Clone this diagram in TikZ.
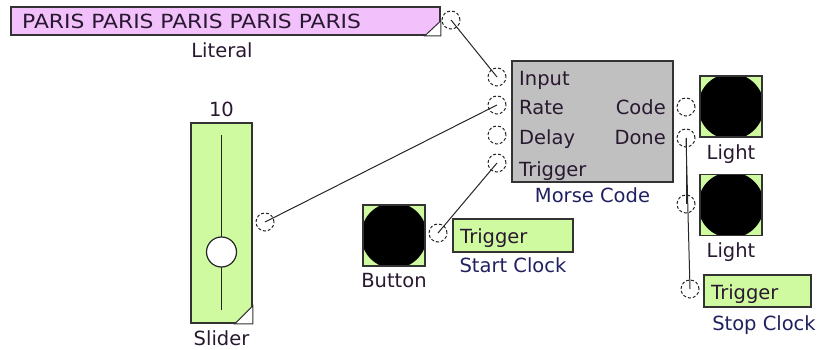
\documentclass[tikz,border=0pt]{standalone}
\usepackage{fontspec}
\setmainfont{DejaVu Sans}
\usetikzlibrary{positioning}
\definecolor{modgreen}{RGB}{208,250,160}
\definecolor{litpink}{RGB}{242,192,250}
\definecolor{modgray}{RGB}{192,192,192}
\definecolor{lblblue}{RGB}{32,32,96}
\definecolor{lbldark}{RGB}{40,24,48}
\tikzset{
  modbox/.style={rectangle, draw=black!80, line width=1.6pt, fill=#1, inner sep=0pt},
  lampbox/.style={modbox=modgreen, minimum width=62pt, minimum height=61pt,
                  path picture={\fill[black] (path picture bounding box.center) circle (33pt);}},
  port/.style={circle, draw=black!85, densely dashed, line width=1pt,
               minimum size=18pt, inner sep=0pt},
  wire/.style={line width=1pt, black!85},
  lbl/.style={font=\fontsize{19.5}{24}\selectfont, inner sep=0pt, anchor=base, text=lbldark},
  modlbl/.style={lbl, text=lblblue},
  corner/.style={fill=white, draw=black!80, line width=1pt},
}
\begin{document}
\begin{tikzpicture}[x=1pt, y=-1pt]
  \useasboundingbox (0,0) rectangle (824,350);
  % Literal
  \node[modbox=litpink, minimum width=429pt, minimum height=28pt] (literal) at (225.5,21) {};
  \node[lbl, anchor=base west, xscale=1.12] (littext) at (22,29) {PARIS PARIS PARIS PARIS PARIS};
  \draw[corner] (literal.south east) -- ++(0,-15) -- ++(-16,15) -- cycle;
  \node[lbl] (litname) at (222,58) {Literal};
  \node[port] (litout) at (451,20) {};
  % Morse Code
  \node[modbox=modgray, minimum width=161pt, minimum height=121pt] (morse) at (592.5,121.5) {};
  \node[lbl, anchor=base west] (inlbl) at (519,86) {Input};
  \node[lbl, anchor=base west] (ratelbl) at (519,115) {Rate};
  \node[lbl, anchor=base west] (delaylbl) at (519,145) {Delay};
  \node[lbl, anchor=base west] (triglbl) at (519,176) {Trigger};
  \node[lbl, anchor=base east] (codelbl) at (666,115) {Code};
  \node[lbl, anchor=base east] (donelbl) at (666,145) {Done};
  \node[modlbl] (morsename) at (592.5,202) {Morse Code};
  \node[port] (inport) at (497,77) {};
  \node[port] (rateport) at (497,105) {};
  \node[port] (delayport) at (497,135) {};
  \node[port] (trigport) at (497,163) {};
  \node[port] (codeport) at (686,107) {};
  \node[port] (doneport) at (686,138) {};
  % Lights
  \node[lampbox] (light1) at (731,106.5) {};
  \node[lbl] (light1name) at (731,159) {Light};
  \node[lampbox] (light2) at (731,205) {};
  \node[lbl] (light2name) at (731,257) {Light};
  \node[port] (light2in) at (686,204) {};
  % Stop Clock
  \node[modbox=modgreen, minimum width=107pt, minimum height=32pt] (stop) at (757.5,291) {};
  \node[lbl, anchor=base west] (stoptrig) at (711,299) {Trigger};
  \node[modlbl] (stopname) at (764,330) {Stop Clock};
  \node[port] (stopin) at (690,289) {};
  % Slider
  \node[modbox=modgreen, minimum width=61pt, minimum height=200pt] (slider) at (221.5,223) {};
  \node[lbl] (sliderval) at (221.5,117) {10};
  \draw[line width=1.5pt, black!85] (221.5,135) -- (221.5,310);
  \node[circle, fill=white, draw=black!85, line width=1.2pt, minimum size=30pt] (knob) at (221.5,252) {};
  \draw[corner] (slider.south east) -- ++(0,-18) -- ++(-18,18) -- cycle;
  \node[lbl] (slidername) at (221.5,345) {Slider};
  \node[port] (sliderout) at (265,222) {};
  % Button and Start Clock
  \node[lampbox] (button) at (394,235.5) {};
  \node[lbl] (buttonname) at (394,287) {Button};
  \node[port] (buttonout) at (438,233) {};
  \node[modbox=modgreen, minimum width=120pt, minimum height=33pt] (start) at (513,235.5) {};
  \node[lbl, anchor=base west] (starttrig) at (460,243) {Trigger};
  \node[modlbl] (startname) at (513,272) {Start Clock};
  % Wires
  \draw[wire] (litout.center) -- (inport.center);
  \draw[wire] (sliderout.center) -- (rateport.center);
  \draw[wire] (buttonout.center) -- (trigport.center);
  \draw[wire] (doneport.center) -- (light2in.center);
  \draw[wire] (doneport.center) -- (stopin.center);
\end{tikzpicture}
\end{document}
